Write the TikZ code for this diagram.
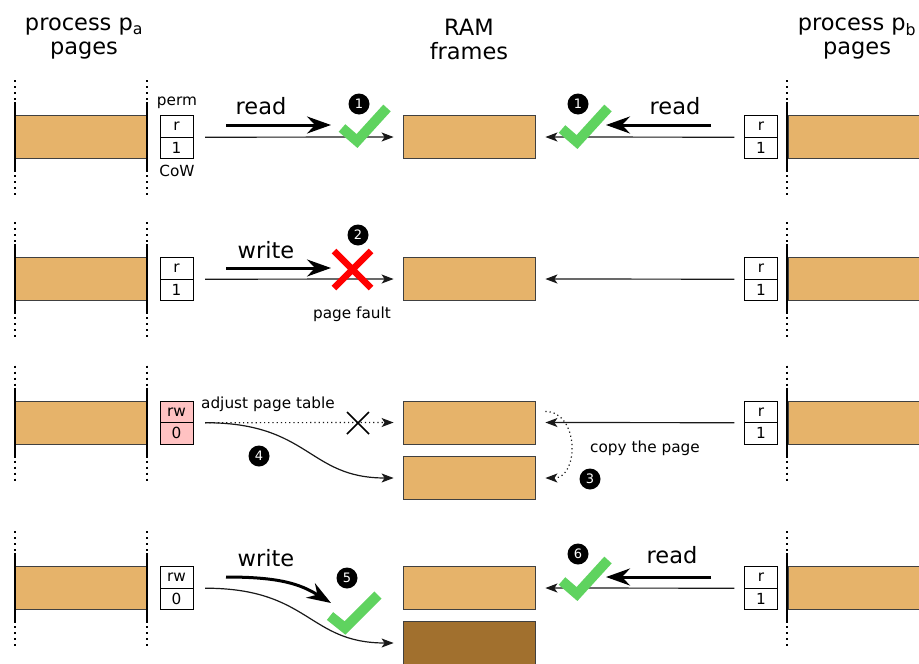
\documentclass[tikz,border=0pt]{standalone}
\usepackage{fontspec}
\setmainfont{DejaVu Sans}
\usetikzlibrary{arrows.meta}
\definecolor{pagefill}{RGB}{230,179,106}
\definecolor{pinkfill}{RGB}{255,194,194}
\definecolor{brownfill}{RGB}{161,112,46}
\definecolor{okgreen}{RGB}{95,211,95}
\newcommand\fBig{\fontsize{22.5}{24}\selectfont}
\newcommand\fSmall{\fontsize{15.3}{17}\selectfont}
\newcommand\fBadge{\fontsize{13}{13}\selectfont}
\begin{document}
\begin{tikzpicture}[x=1pt,y=-1pt,
  page/.style={draw=black!75, fill=pagefill, minimum width=132pt, minimum height=43pt, inner sep=0pt, line width=0.8pt},
  permcell/.style={draw=black, fill=white, minimum width=33pt, minimum height=21.5pt, inner sep=0pt, font=\fSmall},
  conn/.style={-{Stealth[length=12pt,width=9pt,inset=3pt]}, line width=1.2pt, draw=black!90},
  bold/.style={-{Stealth[length=24pt,width=17pt,inset=8pt]}, line width=3pt},
  badge/.style={circle, fill=black, text=white, minimum size=21pt, inner sep=0pt, font=\fBadge},
  check/.style={draw=okgreen, line width=10pt, line join=miter},
  big/.style={font=\fBig, inner sep=0pt},
  small/.style={font=\fSmall, inner sep=0pt},
  edgeline/.style={line width=2pt},
  dots/.style={line width=2pt, dash pattern=on 2pt off 4pt}
]
\clip (0,0) rectangle (919,664);
\fill[white] (0,0) rectangle (919,664);

% headers
\node[big, align=center] (hpa) at (84,39) {process p\textsubscript{a}\\pages};
\node[big, align=center] (hram) at (469,39) {RAM\\frames};
\node[big, align=center] (hpb) at (857,39) {process p\textsubscript{b}\\pages};

% pages and edges
\foreach \i/\cy in {1/137,2/279,3/422.5,4/588} {
  \node[page] (la\i) at (81,\cy) {};
  \node[page, minimum width=150pt] (rb\i) at (863,\cy) {};
  \node[page] (ram\i) at (469,\cy) {};
  \foreach \x in {15,147,787} {
    \draw[edgeline] (\x,\cy-35) -- (\x,\cy+35);
    \draw[dots] (\x,\cy-57) -- (\x,\cy-37);
    \draw[dots] (\x,\cy+38) -- (\x,\cy+58);
  }
  \node[permcell] (pbt\i) at (761,\cy-10.75) {r};
  \node[permcell] (pbb\i) at (761,\cy+10.75) {1};
  \draw[conn, shorten >=10pt] ([xshift=-10pt]pbt\i.south west) -- (ram\i.east);
}
\node[page] (ram3b) at (469,478) {};
\node[page, fill=brownfill] (ram4b) at (469,643) {};

% left perm cells
\node[permcell] (pat1) at (176.5,126.25) {r};
\node[permcell] (pab1) at (176.5,147.75) {1};
\node[permcell] (pat2) at (176.5,268.25) {r};
\node[permcell] (pab2) at (176.5,289.75) {1};
\node[permcell, fill=pinkfill] (pat3) at (176.5,411.75) {rw};
\node[permcell, fill=pinkfill] (pab3) at (176.5,433.25) {0};
\node[permcell] (pat4) at (176.5,577.25) {rw};
\node[permcell] (pab4) at (176.5,598.75) {0};
\node[small] (perm) at (177,103) {perm};
\node[small] (cow) at (177,171) {CoW};

% row 1
\draw[conn, shorten >=9pt] ([xshift=12pt]pat1.south east) -- (ram1.west);
\coordinate (r1a) at (226,125); \coordinate (r1b) at (331,125);
\draw[bold] (r1a) -- (r1b);
\node[big] (read1) at (261,106) {read};
\coordinate (r1c) at (711,125); \coordinate (r1d) at (606,125);
\draw[bold] (r1c) -- (r1d);
\node[big] (read1r) at (675,106) {read};
\draw[check] (342,128) -- (357,141) -- (387,108);
\draw[check] (562,129) -- (577,142) -- (608,108);
\node[badge] (b1l) at (359,104) {1};
\node[badge] (b1r) at (578,104) {1};

% row 2
\draw[conn, shorten >=9pt] ([xshift=12pt]pat2.south east) -- (ram2.west);
\coordinate (r2a) at (226,268); \coordinate (r2b) at (331,268);
\draw[bold] (r2a) -- (r2b);
\node[big] (write2) at (266,250) {write};
\draw[red, line width=6.5pt] (334,251) -- (371,288) (371,251) -- (334,288);
\node[badge] (b2) at (358,235) {2};
\node[small] (pf) at (352,314) {page fault};

% row 3
\draw[conn, dash pattern=on 1.2pt off 3pt, shorten >=9pt] ([xshift=12pt]pat3.south east) -- (ram3.west);
\draw[line width=1.6pt] (347,412) -- (369,434) (369,412) -- (347,434);
\node[small] (adj) at (268,404) {adjust page table};
\draw[conn, shorten >=9pt] ([xshift=12pt]pat3.south east) .. controls +(105,0) and +(-95,0) .. (ram3b.west);
\node[badge] (b4) at (259,456) {4};
\draw[conn, dash pattern=on 1.2pt off 3pt, shorten <=10pt, shorten >=10pt] ([yshift=11pt]ram3.east) .. controls +(44,0) and +(44,0) .. (ram3b.east);
\node[badge] (b3) at (590,479) {3};
\node[small] (copy) at (645,448) {copy the page};

% row 4
\draw[conn, shorten >=9pt] ([xshift=12pt]pat4.south east) .. controls +(105,0) and +(-95,0) .. (ram4b.west);
\coordinate (r4a) at (226,577); \coordinate (r4b) at (331,603);
\draw[bold] (r4a) .. controls (280,577) and (300,584) .. (r4b);
\node[big] (write4) at (266,558) {write};
\draw[check] (330,616) -- (345,628) -- (378,595);
\node[badge] (b5) at (347,578) {5};
\coordinate (r4c) at (711,577); \coordinate (r4d) at (606,577);
\draw[bold] (r4c) -- (r4d);
\node[big] (read4) at (672,555) {read};
\draw[check] (562,581) -- (577,594) -- (608,560);
\node[badge] (b6) at (578,554) {6};
\end{tikzpicture}
\end{document}
